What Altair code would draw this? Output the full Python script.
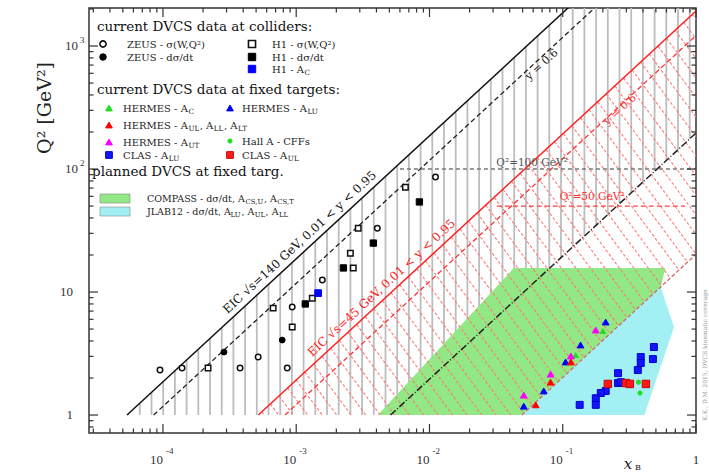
import re
import numpy as np
import pandas as pd
import altair as alt

# ------------------------------------------------------------------
# frame of the Q^2 - x_B plane
W, H = 607, 425
OX, OY = 89, 8                      # plot area offset inside the page
X_MIN, X_MAX = 10 ** -4.555, 1.0
Q_MIN, Q_MAX = 10 ** -0.146, 10 ** 3.309
FONT = "DejaVu Serif"
NUM_FONT = "Liberation Serif"

# collider energies and inelasticity cuts, Q^2 = s * x * y
SQRT_S_HIGH = 140.0
SQRT_S_LOW = 45.0
Y_CUT_MAX, Y_CUT_MID, Y_CUT_MIN = 0.95, 0.6, 0.01

# reference Q^2 levels
Q2_REF_BLACK, Q2_REF_BLACK_X = 100.0, [6.0e-3, 1.0]
Q2_REF_RED, Q2_REF_RED_X = 50.0, [0.032, 0.826]

# ------------------------------------------------------------------
# collider measurements (HERA)
zeus_sig_x = [9.5e-5, 1.39e-4, 3.79e-4, 5.18e-4, 8.56e-4, 9.33e-4, 1.57e-3, 4.06e-3, 1.11e-2]
zeus_sig_q2 = [2.32, 2.41, 2.41, 2.96, 2.41, 7.55, 12.5, 33.0, 86.0]
zeus_dsdt_x = [2.87e-4, 7.85e-4]
zeus_dsdt_q2 = [3.25, 4.07]
h1_sig_x = [2.18e-4, 6.71e-4, 9.33e-4, 1.32e-3, 2.55e-3, 2.68e-3, 2.92e-3, 6.6e-3]
h1_sig_q2 = [2.41, 7.4, 5.2, 8.9, 20.7, 15.7, 33.0, 71.0]
h1_dsdt_x = [1.17e-3, 2.26e-3, 3.79e-3, 8.4e-3]
h1_dsdt_q2 = [8.0, 15.7, 25.0, 54.0]
h1_ac_x = [1.46e-3]
h1_ac_q2 = [9.8]

# fixed-target measurements
hermes_c_x = [0.200, 0.125]
hermes_c_q2 = [4.82, 3.07]
hermes_lu_x = [0.210, 0.136, 0.105, 0.072, 0.051]
hermes_lu_q2 = [5.70, 3.71, 2.70, 1.57, 1.18]
hermes_ul_x = [0.115, 0.081, 0.0627]
hermes_ul_q2 = [2.70, 1.85, 1.21]
hermes_ut_x = [0.177, 0.115, 0.081, 0.051]
hermes_ut_q2 = [4.91, 3.02, 2.15, 1.45]
halla_x = [0.37, 0.38]
halla_q2 = [1.85, 1.51]
clas_lu_x = [0.483, 0.475, 0.385, 0.385, 0.366, 0.260, 0.260, 0.273, 0.210, 0.193, 0.177, 0.177, 0.134]
clas_lu_q2 = [3.57, 2.85, 2.96, 2.65, 2.32, 2.19, 1.82, 1.85, 1.57, 1.51, 1.37, 1.21, 1.21]
clas_ul_x = [0.218, 0.298, 0.319, 0.421]
clas_ul_q2 = [1.79, 1.82, 1.79, 1.79]

# planned fixed-target coverage (polygon corners)
compass_x = [4.1e-3, 0.043, 0.59, 0.5432, 0.04938]
compass_q2 = [1.0, 15.7, 15.7, 11.0, 1.0]
jlab_x = [0.04938, 0.5432, 0.684, 0.41]
jlab_q2 = [1.0, 11.0, 5.2, 1.0]

# ------------------------------------------------------------------
S_HI, S_LO = SQRT_S_HIGH ** 2, SQRT_S_LOW ** 2
LX0, LX1 = np.log10(X_MIN), np.log10(X_MAX)
LY0, LY1 = np.log10(Q_MIN), np.log10(Q_MAX)


def px_of(x):
    return (np.log10(x) - LX0) / (LX1 - LX0) * W


def py_of(q):
    return (LY1 - np.log10(q)) / (LY1 - LY0) * H


def x_of(px):
    return 10 ** (LX0 + px / W * (LX1 - LX0))


def q_of(py):
    return 10 ** (LY1 - py / H * (LY1 - LY0))


xs = alt.Scale(type="log", domain=[X_MIN, X_MAX], nice=False)
ys = alt.Scale(type="log", domain=[Q_MIN, Q_MAX], nice=False)


def X(f):
    return alt.X(f"{f}:Q", scale=xs, axis=None)


def Y(f):
    return alt.Y(f"{f}:Q", scale=ys, axis=None)


one = pd.DataFrame({"k": [0]})
layers = []

# ---- grey vertical hatching: high-energy collider acceptance ----
grey = []
for px in np.arange(4.0, W, 11.7):
    x = x_of(px)
    lo = max(1.0, S_HI * Y_CUT_MIN * x)
    hi = min(Q_MAX, S_HI * Y_CUT_MAX * x)
    if hi > lo:
        grey.append({"x": x, "q": lo, "q2": hi})
layers.append(
    alt.Chart(pd.DataFrame(grey)).mark_rule(color="#bdbdbd", strokeWidth=1.8)
    .encode(x=X("x"), y=Y("q"), y2="q2")
)


# ---- planned fixed-target areas (polygon -> vertical band) ----
def band(xv, qv):
    lx, lq = np.log10(xv), np.log10(qv)
    n = len(xv)
    rows = []
    for L in sorted(set(lx)):
        pts = []
        for i in range(n):
            a, b = i, (i + 1) % n
            x0, x1 = lx[a], lx[b]
            if min(x0, x1) <= L <= max(x0, x1):
                if x0 == x1:
                    pts += [lq[a], lq[b]]
                else:
                    t = (L - x0) / (x1 - x0)
                    pts.append(lq[a] + t * (lq[b] - lq[a]))
        rows.append({"x": 10 ** L, "lo": 10 ** min(pts), "hi": 10 ** max(pts)})
    return pd.DataFrame(rows)


GREEN_FILL, CYAN_FILL = "#92e884", "#a3f0f4"
for xv, qv, col in [(compass_x, compass_q2, GREEN_FILL), (jlab_x, jlab_q2, CYAN_FILL)]:
    layers.append(
        alt.Chart(band(xv, qv)).mark_area(color=col, opacity=1, interpolate="linear")
        .encode(x=X("x"), y=Y("lo"), y2="hi")
    )


# ---- red diagonal hatching: low-energy collider acceptance ----
def clip_line(p0, d, poly):
    t0, t1 = -1e9, 1e9
    c = poly.mean(axis=0)
    for i in range(len(poly)):
        a, b = poly[i], poly[(i + 1) % len(poly)]
        e = b - a
        nrm = np.array([-e[1], e[0]])
        if np.dot(nrm, c - a) < 0:
            nrm = -nrm
        den = np.dot(nrm, d)
        num = np.dot(nrm, p0 - a)
        if abs(den) < 1e-12:
            if num < 0:
                return None
        else:
            t = -num / den
            if den > 0:
                t0 = max(t0, t)
            else:
                t1 = min(t1, t)
    if t1 <= t0:
        return None
    return p0 + t0 * d, p0 + t1 * d


red_poly_data = [(1 / (S_LO * Y_CUT_MAX), 1.0), (1 / (S_LO * Y_CUT_MIN), 1.0),
                 (1.0, S_LO * Y_CUT_MIN), (1.0, min(Q_MAX, S_LO * Y_CUT_MAX))]
red_poly = np.array([[px_of(x), py_of(q)] for x, q in red_poly_data])
hatch = []
d = np.array([1.0, 1.35])
for c in np.arange(-H / 1.35, W, 14.5):
    seg = clip_line(np.array([c, 0.0]), d, red_poly)
    if seg is not None:
        p, q = seg
        hatch.append({"x": x_of(p[0]), "q": q_of(p[1]), "x2": x_of(q[0]), "q2": q_of(q[1])})
layers.append(
    alt.Chart(pd.DataFrame(hatch)).mark_rule(color="#ff7a7a", strokeWidth=1.1, strokeDash=[3, 2])
    .encode(x=X("x"), y=Y("q"), x2="x2", y2="q2")
)

# ---- kinematic limits ----
kin_styles = [
    (S_HI, Y_CUT_MAX, "#111111", [], 1.5),
    (S_HI, Y_CUT_MID, "#222222", [5, 3], 1.3),
    (S_HI, Y_CUT_MIN, "#222222", [7, 2, 1, 2], 1.5),
    (S_LO, Y_CUT_MAX, "#ff2020", [], 1.5),
    (S_LO, Y_CUT_MID, "#ff3030", [5, 3], 1.3),
    (S_LO, Y_CUT_MIN, "#d06a6a", [4, 2], 1.3),
]
for s, yc, col, dash, sw in kin_styles:
    df = pd.DataFrame({"x": [1 / (s * yc)], "q": [1.0], "x2": [1.0], "q2": [s * yc]})
    mk = dict(color=col, strokeWidth=sw, clip=True)
    if dash:
        mk["strokeDash"] = dash
    layers.append(alt.Chart(df).mark_rule(**mk).encode(x=X("x"), y=Y("q"), x2="x2", y2="q2"))

# ---- horizontal reference levels ----
layers.append(
    alt.Chart(pd.DataFrame({"x": [Q2_REF_BLACK_X[0]], "x2": [Q2_REF_BLACK_X[1]], "q": [Q2_REF_BLACK]}))
    .mark_rule(color="#777777", strokeWidth=1.6, strokeDash=[4, 3])
    .encode(x=X("x"), x2="x2", y=Y("q"))
)
layers.append(
    alt.Chart(pd.DataFrame({"x": [Q2_REF_RED_X[0]], "x2": [Q2_REF_RED_X[1]], "q": [Q2_REF_RED]}))
    .mark_rule(color="#ff4040", strokeWidth=1.2, strokeDash=[5, 3])
    .encode(x=X("x"), x2="x2", y=Y("q"))
)

# ---- labels along the lines ----
slope_deg = np.degrees(np.arctan((H / (LY1 - LY0)) / (W / (LX1 - LX0))))
ANG = 360 - slope_deg
line_labels = [
    (f"EIC √s={SQRT_S_HIGH:.0f} GeV, 0.01 < y < 0.95", 1.19e-3, S_HI * Y_CUT_MAX, "#111111", -6, 12),
    (f"EIC √s={SQRT_S_LOW:.0f} GeV, 0.01 < y < 0.95", 4.9e-3, S_LO * Y_CUT_MAX, "#ff2020", -6, 12),
    ("y = 0.6", 0.065, S_HI * Y_CUT_MID, "#222222", 9, 11),
    ("y = 0.6", 0.26, S_LO * Y_CUT_MID, "#ff3030", 6, 11),
]
for t, x, k, col, dy, fs in line_labels:
    layers.append(
        alt.Chart(pd.DataFrame({"x": [x], "q": [k * x]}))
        .mark_text(text=t, angle=ANG, fontSize=fs, font=FONT, color=col, dy=dy,
                   align="center", baseline="alphabetic")
        .encode(x=X("x"), y=Y("q"))
    )
layers.append(
    alt.Chart(pd.DataFrame({"x": [0.0588], "q": [Q2_REF_BLACK]}))
    .mark_text(text="Q²=100 GeV²", fontSize=10.5, font=FONT, color="#555555", dy=-6)
    .encode(x=X("x"), y=Y("q"))
)
layers.append(
    alt.Chart(pd.DataFrame({"x": [0.166], "q": [Q2_REF_RED]}))
    .mark_text(text="Q²=50 GeV²", fontSize=10.5, font=FONT, color="#ff3030", dy=-9)
    .encode(x=X("x"), y=Y("q"))
)


# ---- data points ----
def pts(xv, qv, shape, fill, stroke, size, sw=1.0):
    return (
        alt.Chart(pd.DataFrame({"x": xv, "q": qv}))
        .mark_point(shape=shape, filled=True, fill=fill, stroke=stroke, strokeWidth=sw,
                    size=size, opacity=1)
        .encode(x=X("x"), y=Y("q"))
    )


layers += [
    pts(zeus_sig_x, zeus_sig_q2, "circle", "white", "#111111", 30, 1.5),
    pts(h1_sig_x, h1_sig_q2, "square", "white", "#111111", 30, 1.5),
    pts(zeus_dsdt_x, zeus_dsdt_q2, "circle", "#000000", "#000000", 34),
    pts(h1_dsdt_x, h1_dsdt_q2, "square", "#000000", "#000000", 40),
    pts(h1_ac_x, h1_ac_q2, "square", "#0000ff", "#0000ff", 45),
    pts(clas_lu_x, clas_lu_q2, "square", "#1414ff", "#0000cc", 48),
    pts(clas_ul_x, clas_ul_q2, "square", "#ff1a1a", "#cc0000", 55),
    pts(halla_x, halla_q2, "circle", "#22dd22", "#22dd22", 18),
    pts(hermes_c_x, hermes_c_q2, "triangle-up", "#22dd22", "#22dd22", 30),
    pts(hermes_lu_x, hermes_lu_q2, "triangle-up", "#0000ff", "#0000ff", 45),
    pts(hermes_ul_x, hermes_ul_q2, "triangle-up", "#ff0000", "#ff0000", 45),
    pts(hermes_ut_x, hermes_ut_q2, "triangle-up", "#ff00ff", "#ff00ff", 45),
]

# ---- inward ticks on all four sides ----
x_major = [10.0 ** e for e in range(-4, 1)]
x_minor = [m * 10.0 ** e for e in range(-5, 0) for m in range(2, 10) if X_MIN <= m * 10.0 ** e <= X_MAX]
y_major = [10.0 ** e for e in range(0, 4)]
y_minor = [m * 10.0 ** e for e in range(-1, 4) for m in range(2, 10) if Q_MIN <= m * 10.0 ** e <= Q_MAX]
TICK = "#333333"
for vals, ln in [(x_major, 9), (x_minor, 4.5)]:
    df = pd.DataFrame({"x": vals})
    layers.append(alt.Chart(df).mark_rule(color=TICK, strokeWidth=1.2)
                  .encode(x=X("x"), y=alt.value(H), y2=alt.value(H - ln)))
    layers.append(alt.Chart(df).mark_rule(color=TICK, strokeWidth=1.2)
                  .encode(x=X("x"), y=alt.value(0), y2=alt.value(ln)))
for vals, ln in [(y_major, 9), (y_minor, 4.5)]:
    df = pd.DataFrame({"q": vals})
    layers.append(alt.Chart(df).mark_rule(color=TICK, strokeWidth=1.2)
                  .encode(y=Y("q"), x=alt.value(0), x2=alt.value(ln)))
    layers.append(alt.Chart(df).mark_rule(color=TICK, strokeWidth=1.2)
                  .encode(y=Y("q"), x=alt.value(W), x2=alt.value(W - ln)))

# ---- tick labels ----
x_lab_base = pd.DataFrame({"x": [1e-4, 1e-3, 1e-2, 1e-1]})
x_lab_exp = pd.DataFrame({"x": [1e-4, 1e-3, 1e-2, 1e-1], "t": ["-4", "-3", "-2", "-1"]})
layers.append(alt.Chart(x_lab_base).mark_text(text="10", font=NUM_FONT, fontSize=13, color="#333",
                                              align="right", baseline="middle")
              .encode(x=X("x"), y=alt.value(452)))
layers.append(alt.Chart(x_lab_exp).mark_text(font=NUM_FONT, fontSize=9, color="#333",
                                             align="left", baseline="middle", dx=3)
              .encode(x=X("x"), y=alt.value(443), text="t:N"))
layers.append(alt.Chart(pd.DataFrame({"x": [1.0]})).mark_text(text="1", font=NUM_FONT, fontSize=13,
                                                              color="#333", baseline="middle")
              .encode(x=X("x"), y=alt.value(452)))
y_lab = pd.DataFrame({"q": [1.0, 10.0], "t": ["1", "10"]})
layers.append(alt.Chart(y_lab).mark_text(font=NUM_FONT, fontSize=13, color="#333",
                                         align="right", baseline="middle")
              .encode(y=Y("q"), x=alt.value(-16), text="t:N"))
y_lab2 = pd.DataFrame({"q": [100.0, 1000.0], "t": ["2", "3"]})
layers.append(alt.Chart(y_lab2).mark_text(text="10", font=NUM_FONT, fontSize=13, color="#333",
                                          align="right", baseline="middle")
              .encode(y=Y("q"), x=alt.value(-11)))
layers.append(alt.Chart(y_lab2).mark_text(font=NUM_FONT, fontSize=9, color="#333",
                                          align="left", baseline="middle", dy=-6)
              .encode(y=Y("q"), x=alt.value(-9), text="t:N"))

# ---- free text, in page coordinates ----
WID = {' ': 318, '-': 338, ',': 318, '.': 318, '/': 337, ':': 337, '(': 390, ')': 390,
       '=': 838, '<': 838, '²': 401, 'σ': 602, 'A': 722, 'B': 735, 'C': 765, 'D': 802,
       'E': 730, 'F': 694, 'G': 799, 'H': 872, 'I': 395, 'J': 401, 'K': 747, 'L': 664,
       'M': 1024, 'N': 875, 'O': 820, 'P': 673, 'Q': 820, 'R': 753, 'S': 685, 'T': 667,
       'U': 843, 'V': 722, 'W': 1028, 'X': 712, 'Y': 660, 'Z': 695, 'a': 596, 'b': 640,
       'c': 560, 'd': 640, 'e': 592, 'f': 370, 'g': 640, 'h': 644, 'i': 320, 'j': 310,
       'k': 606, 'l': 320, 'm': 948, 'n': 644, 'o': 602, 'p': 640, 'q': 640, 'r': 478,
       's': 513, 't': 402, 'u': 644, 'v': 565, 'w': 856, 'x': 564, 'y': 565, 'z': 527}


def text_w(s, size):
    return sum(WID.get(ch, 636) for ch in s) * size / 1000.0


def txt(text, px, py, size=9.5, align="left", baseline="middle", color="#222222",
        angle=0, font=FONT, style=None):
    m = dict(text=text, fontSize=size, align=align, baseline=baseline, color=color, font=font)
    if angle:
        m["angle"] = angle
    if style:
        m["fontStyle"] = style
    return alt.Chart(one).mark_text(**m).encode(x=alt.value(px - OX), y=alt.value(py - OY))


def rich(label, px, py, size=10, color="#222222"):
    out = []
    x = px
    for i, part in enumerate(re.split(r"_\{([^}]*)\}", label)):
        if not part:
            continue
        if i % 2 == 0:
            out.append(txt(part, x, py, size, color=color))
            x += text_w(part, size)
        else:
            s2 = size * 0.72
            out.append(txt(part, x + 0.5, py + 3, s2, color=color))
            x += text_w(part, s2) + 1.0
    return out


def marker(px, py, shape, fill, stroke, size, sw=1.0):
    return (alt.Chart(one)
            .mark_point(shape=shape, filled=True, fill=fill, stroke=stroke, strokeWidth=sw,
                        size=size, opacity=1)
            .encode(x=alt.value(px - OX), y=alt.value(py - OY)))


# legend
layers.append(txt("current DVCS data at colliders:", 97, 27, 13.5, color="#111"))
layers.append(txt("current DVCS data at fixed targets:", 97, 90, 13.5, color="#111"))
layers.append(txt("planned DVCS at fixed targ.", 92, 172, 13.5, color="#111"))

legend_items = [
    (103, 44, "circle", "white", "#111", 38, 1.6, 127, "ZEUS - σ(W,Q²)"),
    (103, 57, "circle", "#000", "#000", 42, 1.0, 127, "ZEUS - dσ/dt"),
    (252, 44, "square", "white", "#111", 50, 1.6, 272, "H1 - σ(W,Q²)"),
    (252, 57, "square", "#000", "#000", 55, 1.0, 272, "H1 - dσ/dt"),
    (252, 69, "square", "#0000ff", "#0000ff", 55, 1.0, 272, "H1 - A_{C}"),
    (109, 108, "triangle-up", "#22dd22", "#22dd22", 45, 1.0, 123, "HERMES - A_{C}"),
    (230, 108, "triangle-up", "#0000ff", "#0000ff", 45, 1.0, 242, "HERMES - A_{LU}"),
    (109, 125, "triangle-up", "#ff0000", "#ff0000", 45, 1.0, 123, "HERMES - A_{UL}, A_{LL}, A_{LT}"),
    (109, 142, "triangle-up", "#ff00ff", "#ff00ff", 45, 1.0, 123, "HERMES - A_{UT}"),
    (230, 141, "circle", "#22dd22", "#22dd22", 18, 1.0, 242, "Hall A - CFFs"),
    (109, 155, "square", "#1414ff", "#0000cc", 45, 1.0, 123, "CLAS - A_{LU}"),
    (230, 155, "square", "#ff1a1a", "#cc0000", 45, 1.0, 242, "CLAS - A_{UL}"),
]
for mx, my, shape, fill, stroke, size, sw, tx, label in legend_items:
    layers.append(marker(mx, my, shape, fill, stroke, size, sw))
    layers += rich(label, tx, my + 1)

for y0, y1, col, label in [(194, 203, GREEN_FILL, "COMPASS - dσ/dt, A_{CS,U}, A_{CS,T}"),
                           (207, 216, CYAN_FILL, "JLAB12 - dσ/dt, A_{LU}, A_{UL}, A_{LL}")]:
    layers.append(alt.Chart(one).mark_rect(color=col, stroke="#888888", strokeWidth=0.6)
                  .encode(x=alt.value(100 - OX), x2=alt.value(130 - OX),
                          y=alt.value(y0 - OY), y2=alt.value(y1 - OY)))
    layers += rich(label, 147, (y0 + y1) / 2, 9.5)

# axis titles
layers.append(txt("Q² [GeV²]", 45, 108, 19, align="center", angle=270, color="#222"))
layers.append(txt("x", 628, 464, 15, align="center", color="#222", style="italic"))
layers.append(txt("B", 635, 468, 8, align="left", color="#222"))
# small credit line on the right margin
layers.append(txt("K.K., D.M. 2015, DVCS kinematic coverage", 705, 355, 6, align="center",
                  angle=270, color="#999999"))

chart = (
    alt.layer(*layers)
    .properties(width=W, height=H,
                padding={"left": OX, "top": OY, "right": 709 - OX - W, "bottom": 474 - OY - H},
                autosize=alt.AutoSizeParams(type="none"), background="white")
    .configure_view(stroke="#333333", strokeWidth=1.5)
)
chart.save("out.html", embed_options={"renderer": "svg", "actions": False})
